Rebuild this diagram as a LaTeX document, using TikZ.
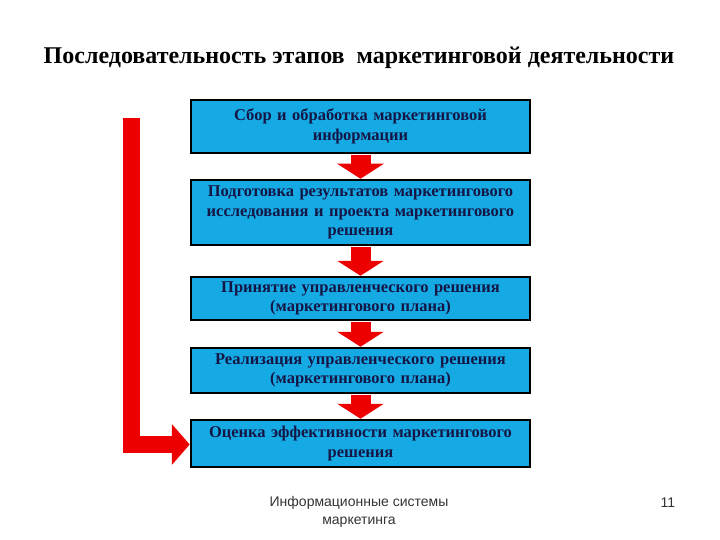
\documentclass[tikz,border=0pt]{standalone}
\usepackage{fontspec}
\setmainfont{Liberation Serif}
\setsansfont{Liberation Sans}
\usetikzlibrary{arrows.meta}
\definecolor{etapfill}{RGB}{22,170,228}
\definecolor{etaptext}{RGB}{20,22,70}
\definecolor{strelka}{RGB}{236,0,0}
\begin{document}
\begin{tikzpicture}[x=1pt,y=-1pt]
\tikzstyle{etap}=[rectangle,fill=etapfill,draw=black,line width=2.5pt,minimum width=339pt,text width=335pt,align=center,inner sep=1pt,text=etaptext,font=\fontsize{16.5}{19.5}\selectfont\bfseries]
\tikzstyle{vniz}=[line width=20pt,strelka,-{Triangle[width=46pt,length=15pt]}]
\tikzstyle{nazad}=[line width=17pt,strelka,miter limit=10,-{Triangle[width=40pt,length=18pt]}]
\tikzstyle{podpis}=[font=\sffamily\fontsize{14}{18}\selectfont,text=black!80,align=center]
\useasboundingbox (0,0) rectangle (720,540);
% заголовок
\node[font=\fontsize{24}{26}\selectfont\bfseries] (zag) at (359,58) {Последовательность этапов\ \ маркетинговой деятельности};
% этапы
\node[etap,minimum height=53pt] (b1) at (360.5,126.5) {Сбор и обработка маркетинговой\\информации};
\node[etap,minimum height=65pt] (b2) at (360.5,212.5) {Подготовка результатов маркетингового\\исследования и проекта маркетингового\\решения};
\node[etap,minimum height=43pt] (b3) at (360.5,298.5) {Принятие управленческого решения\\(маркетингового плана)};
\node[etap,minimum height=45pt] (b4) at (360.5,370.5) {Реализация управленческого решения\\(маркетингового плана)};
\node[etap,minimum height=47pt] (b5) at (360.5,443.5) {Оценка эффективности маркетингового\\решения};
% стрелки
\draw[vniz] ([yshift=-1pt]b1.south) -- (b2.north);
\draw[vniz] ([yshift=-1pt]b2.south) -- (b3.north);
\draw[vniz] ([yshift=-1pt]b3.south) -- (b4.north);
\draw[vniz] ([yshift=-1pt]b4.south) -- (b5.north);
\coordinate (nach) at (131.5,118);
\draw[nazad] (nach) |- ([yshift=-1pt]b5.west);
% подвал
\node[podpis] (ist) at (359,512) {Информационные системы\\маркетинга};
\node[podpis] (nom) at (668,503) {11};
\end{tikzpicture}
\end{document}
